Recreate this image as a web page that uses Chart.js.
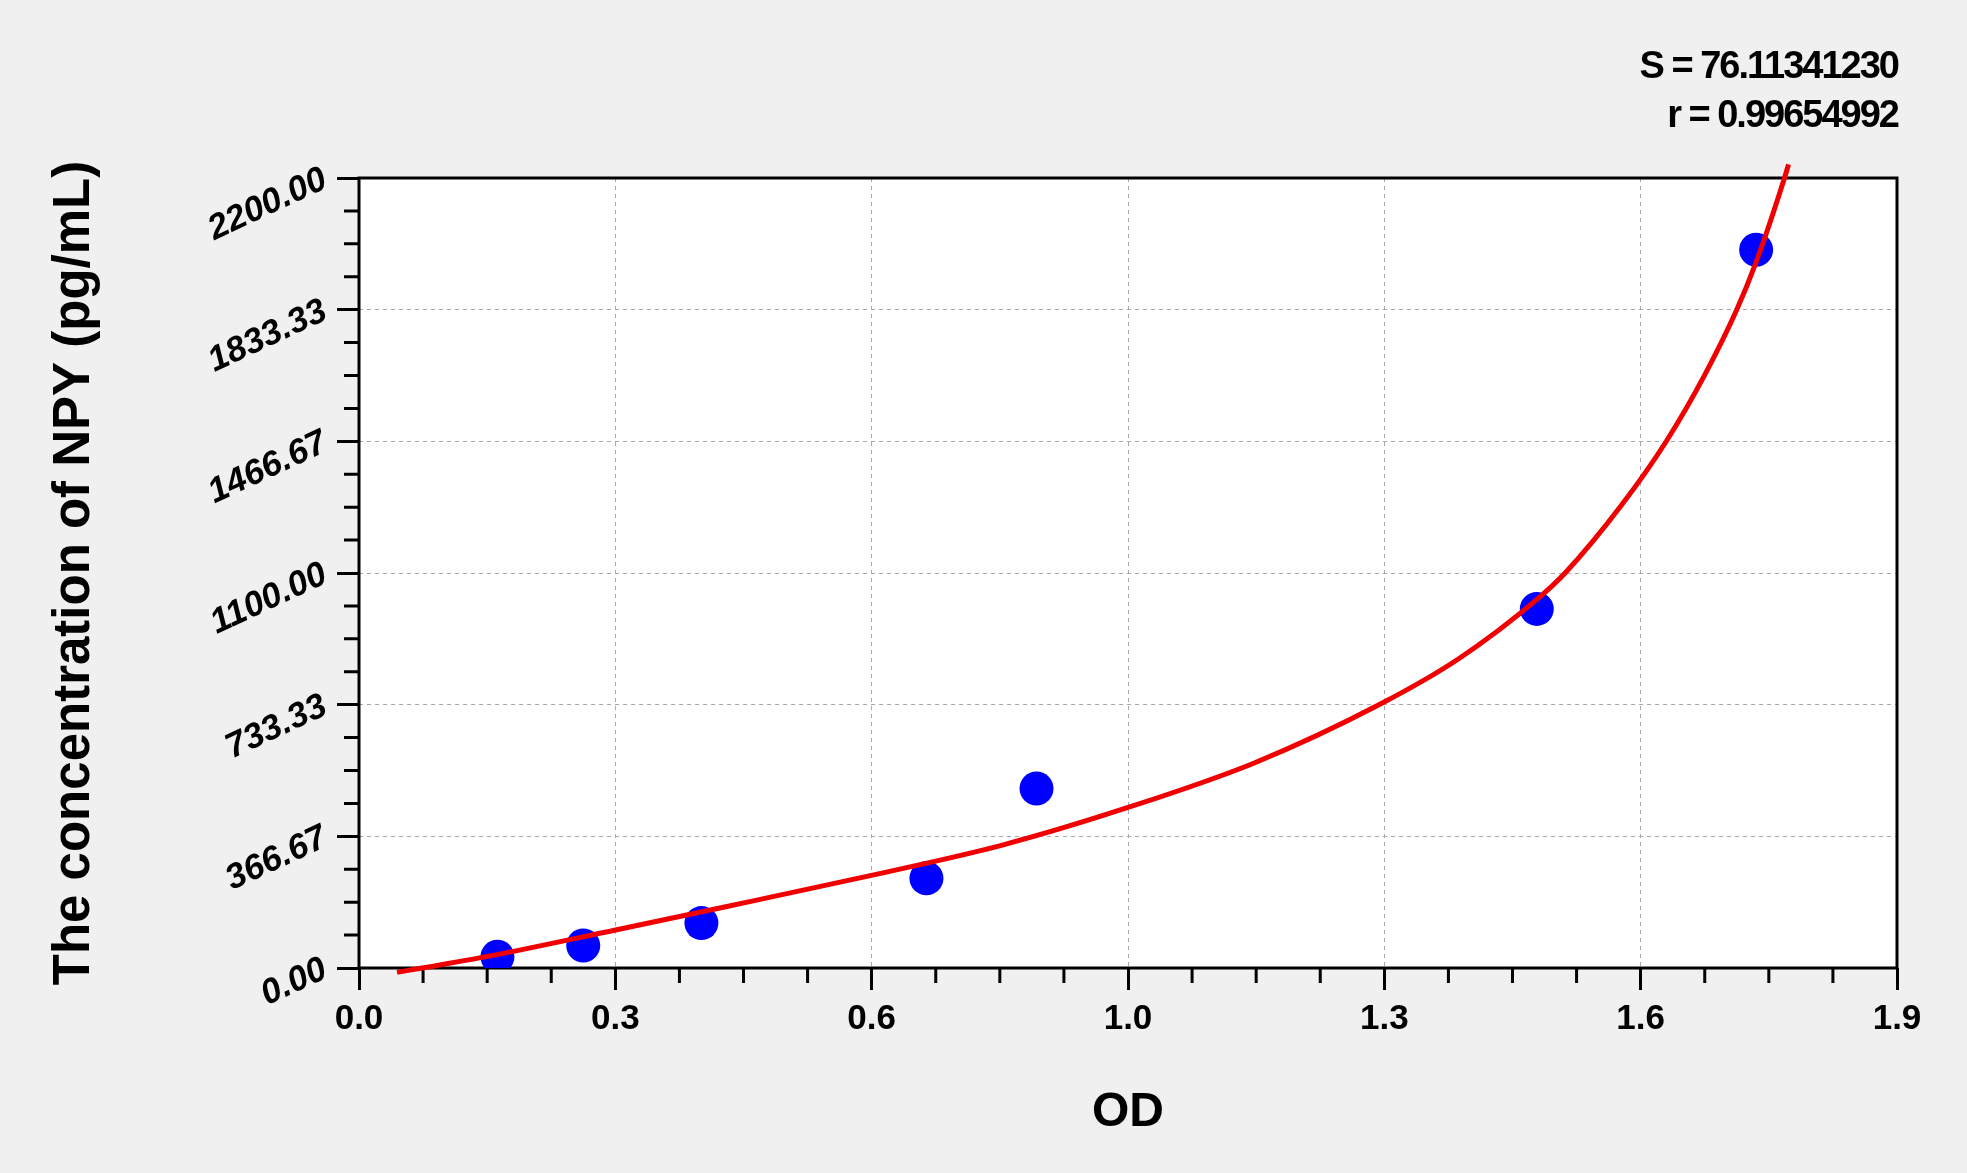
<!DOCTYPE html>
<html>
<head>
<meta charset="utf-8">
<title>NPY standard curve</title>
<script src="https://cdn.jsdelivr.net/npm/chart.js@4.4.1/dist/chart.umd.min.js"></script>
<style>
  html, body { margin: 0; padding: 0; background: #f0f0f0; }
  canvas { display: block; }
</style>
</head>
<body>
<canvas id="curve-chart" width="1967" height="1173"></canvas>
<script>
// standards (OD vs concentration)
const odValues = [0.171, 0.277, 0.423, 0.701, 0.837, 1.455, 1.726]
const concValues = [31.25, 62.5, 125, 250, 500, 1000, 2000]

// fitted curve
const curveOd = [0.047, 0.078, 0.172, 0.317, 0.456, 0.633, 0.796, 0.95, 1.106, 1.260, 1.359, 1.456, 1.490, 1.560, 1.615, 1.663, 1.702, 1.725, 1.761, 1.766]
const curveConc = [-12, 0, 38, 106, 172, 258, 343, 447, 571, 733, 862, 1028, 1100, 1290, 1467, 1654, 1833, 1960, 2200, 2238]

const xTickValues = [0, 0.31667, 0.63333, 0.95, 1.26667, 1.58333, 1.9]
const xTickLabels = ["0.0", "0.3", "0.6", "1.0", "1.3", "1.6", "1.9"]
const yTickValues = [0, 366.67, 733.33, 1100, 1466.67, 1833.33, 2200]
const yTickLabels = ["0.00", "366.67", "733.33", "1100.00", "1466.67", "1833.33", "2200.00"]

const fitS = "76.11341230"
const fitR = "0.99654992"

Chart.defaults.font.family = "'Liberation Sans', Arial, sans-serif"
Chart.defaults.color = "#000"

// background, white plot box, black frame, minor ticks and the fit stats
const framePlugin = {
    id: "frame",
    beforeDraw(c) {
        const {ctx, chartArea: a} = c
        ctx.save()
        ctx.fillStyle = "#f0f0f0"
        ctx.fillRect(0, 0, c.width, c.height)
        ctx.fillStyle = "#ffffff"
        ctx.fillRect(a.left, a.top, a.right - a.left, a.bottom - a.top)
        ctx.restore()
    },
    beforeDatasetsDraw(c) {
        const {ctx, chartArea: a, scales} = c
        ctx.save()
        ctx.strokeStyle = "#000"
        ctx.lineWidth = 3
        ctx.strokeRect(a.left, a.top, a.right - a.left, a.bottom - a.top)
        ctx.beginPath()
        for (let i = 0; i < xTickValues.length - 1; i++) {
            for (let k = 1; k < 4; k++) {
                const v = xTickValues[i] + (xTickValues[i + 1] - xTickValues[i]) * k / 4
                const x = scales.x.getPixelForValue(v)
                ctx.moveTo(x, a.bottom)
                ctx.lineTo(x, a.bottom + 15)
            }
        }
        for (let i = 0; i < yTickValues.length - 1; i++) {
            for (let k = 1; k < 4; k++) {
                const v = yTickValues[i] + (yTickValues[i + 1] - yTickValues[i]) * k / 4
                const y = scales.y.getPixelForValue(v)
                ctx.moveTo(a.left, y)
                ctx.lineTo(a.left - 15, y)
            }
        }
        ctx.stroke()
        ctx.restore()
    },
    afterDraw(c) {
        const {ctx, chartArea: a} = c
        ctx.save()
        ctx.fillStyle = "#000"
        ctx.font = "bold 38px 'Liberation Sans', Arial, sans-serif"
        ctx.textAlign = "right"
        ctx.textBaseline = "alphabetic"
        ctx.letterSpacing = "-2px"
        ctx.fillText("S = " + fitS, a.right + 1, 78)
        ctx.fillText("r = " + fitR, a.right + 1, 127)
        ctx.restore()
    }
}

const scatterPoints = odValues.map((x, i) => ({x: x, y: concValues[i]}))
const curvePoints = curveOd.map((x, i) => ({x: x, y: curveConc[i]}))

new Chart(document.getElementById("curve-chart"), {
    type: "scatter",
    data: {
        datasets: [{
            type: "line",
            label: "fit",
            data: curvePoints,
            borderColor: "#f00000",
            borderWidth: 5,
            pointRadius: 0,
            cubicInterpolationMode: "monotone",
            fill: false,
            clip: false,
            order: 0
        },
        {
            label: "standards",
            data: scatterPoints,
            backgroundColor: "#0000ff",
            borderWidth: 0,
            pointRadius: 17,
            pointHoverRadius: 17,
            order: 1
        }]
    },
    options: {
        responsive: false,
        devicePixelRatio: 1,
        animation: false,
        events: [],
        layout: {
            padding: {left: 10, right: 70, top: 178, bottom: 0}
        },
        plugins: {
            legend: {display: false},
            tooltip: {enabled: false}
        },
        scales: {
            x: {
                type: "linear",
                min: 0,
                max: 1.9,
                afterBuildTicks: (s) => { s.ticks = xTickValues.map(v => ({value: v})) },
                afterFit: (s) => { s.height = 205 },
                ticks: {
                    autoSkip: false,
                    maxRotation: 0,
                    padding: 8,
                    font: {size: 35, weight: "bold"},
                    callback: (v, i) => xTickLabels[i]
                },
                grid: {
                    color: "#a8a8a8",
                    lineWidth: 1,
                    tickLength: 22,
                    tickWidth: 3,
                    tickColor: "#000",
                    tickBorderDash: []
                },
                border: {display: false, dash: [4, 4]},
                title: {
                    display: true,
                    text: "OD",
                    font: {size: 48, weight: "bold"},
                    padding: {top: 0, bottom: 31}
                }
            },
            y: {
                type: "linear",
                min: 0,
                max: 2200,
                afterBuildTicks: (s) => { s.ticks = yTickValues.map(v => ({value: v})) },
                afterFit: (s) => { s.width = 349 },
                ticks: {
                    autoSkip: false,
                    minRotation: 25,
                    maxRotation: 25,
                    padding: 12,
                    font: {size: 35, weight: "bold", style: "italic"},
                    callback: (v, i) => yTickLabels[i]
                },
                grid: {
                    color: "#a8a8a8",
                    lineWidth: 1,
                    tickLength: 22,
                    tickWidth: 3,
                    tickColor: "#000",
                    tickBorderDash: []
                },
                border: {display: false, dash: [4, 4]},
                title: {
                    display: true,
                    text: "The concentration of NPY (pg/mL)",
                    font: {size: 51, weight: "bold"},
                    padding: {top: 34, bottom: 0}
                }
            }
        }
    },
    plugins: [framePlugin]
})
</script>
</body>
</html>
